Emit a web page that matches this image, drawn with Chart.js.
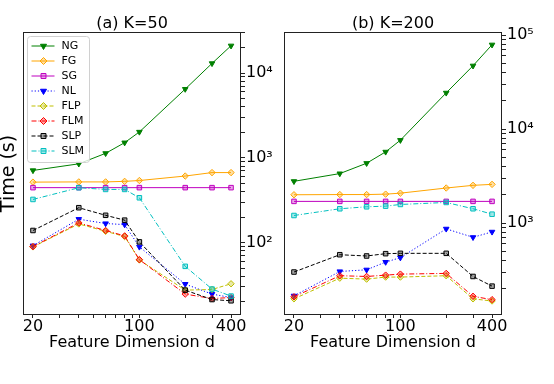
<!DOCTYPE html>
<html>
<head>
<meta charset="utf-8">
<script src="https://cdn.jsdelivr.net/npm/chart.js"></script>
<style>
  html, body { margin: 0; padding: 0; background: #fff; }
  #wrap { position: relative; width: 554px; height: 384px; }
  canvas { position: absolute; top: 0; }
  #left { left: 0; }
  #right { left: 277px; }
</style>
</head>
<body>
<div id="wrap">
  <canvas id="left" width="277" height="384"></canvas>
  <canvas id="right" width="277" height="384"></canvas>
</div>
<script>
// feature dimension d (x values)
const dims = [20, 40, 60, 80, 100, 200, 300, 400];
const seriesNames = ['NG', 'FG', 'SG', 'NL', 'FLP', 'FLM', 'SLP', 'SLM'];

// (a) K=50, time in seconds
const ngK50  = [710, 850, 1130, 1510, 2020, 6470, 13000, 21000];
const fgK50  = [517, 520, 520, 528, 540, 610, 670, 670];
const sgK50  = [445, 445, 445, 445, 445, 445, 445, 445];
const nlK50  = [92, 189, 168, 163, 89, 32.4, 24.7, 22.5];
const flpK50 = [89, 166, 136, 118, 62.4, 27.5, 28, 32.7];
const flmK50 = [89.7, 171, 139, 120, 63, 24.7, 21.9, 22.5];
const slpK50 = [139, 258, 210, 184, 102, 27.5, 21.3, 20.6];
const slmK50 = [323, 444, 424, 424, 338, 52.5, 28.3, 23.4];

// (b) K=200
const ngK200  = [2780, 3360, 4330, 5720, 7620, 24300, 47200, 79000];
const fgK200  = [2000, 2010, 2010, 2030, 2080, 2360, 2520, 2580];
const sgK200  = [1700, 1700, 1700, 1700, 1700, 1700, 1700, 1700];
const nlK200  = [168, 305, 318, 384, 428, 867, 705, 805];
const flpK200 = [156, 259, 253, 266, 266, 275, 156, 148];
const flmK200 = [164, 275, 270, 279, 286, 291, 166, 153];
const slpK200 = [301, 460, 446, 472, 476, 476, 270, 213];
const slmK200 = [1203, 1419, 1489, 1513, 1577, 1656, 1419, 1242];

// tick labels
const xTickLabels = [20, 100, 400];
const yTickLabels = { 100: '10²', 1000: '10³', 10000: '10⁴', 100000: '10⁵' };

const FONT = "'DejaVu Sans', sans-serif";

const STYLE = {
  NG:  { color: '#008000', dash: [],           point: 'triangle', rot: 180, solid: true },
  FG:  { color: '#ffa500', dash: [],           point: 'rectRot' },
  SG:  { color: '#bf00bf', dash: [],           point: 'rect' },
  NL:  { color: '#0000ff', dash: [1.2, 2],     point: 'triangle', rot: 180, solid: true },
  FLP: { color: '#bfbf00', dash: [4, 2],       point: 'rectRot' },
  FLM: { color: '#ff0000', dash: [5, 2, 1, 2], point: 'rectRot' },
  SLP: { color: '#000000', dash: [4, 2],       point: 'rect' },
  SLM: { color: '#00bfbf', dash: [5, 2, 1, 2], point: 'rect' }
};

function fade(hex, a) {
  const n = parseInt(hex.slice(1), 16);
  return 'rgba(' + (n >> 16) + ',' + ((n >> 8) & 255) + ',' + (n & 255) + ',' + a + ')';
}

// minor + major ticks for a log axis between lo and hi
function logTicks(lo, hi) {
  const out = [];
  for (let e = 0; e <= 6; e++) {
    for (let m = 1; m <= 9; m++) {
      const v = m * Math.pow(10, e);
      if (v >= lo && v <= hi) out.push(v);
    }
  }
  return out;
}

const panelTitle = {
  id: 'panelTitle',
  afterDraw(chart, args, opts) {
    const { ctx, chartArea } = chart;
    ctx.save();
    ctx.font = '16px ' + FONT;
    ctx.fillStyle = '#000';
    ctx.textAlign = 'center';
    ctx.textBaseline = 'middle';
    ctx.fillText(opts.text, (chartArea.left + chartArea.right) / 2, chartArea.top - 8);
    ctx.restore();
  }
};

const frame = {
  id: 'frame',
  afterDraw(chart) {
    const { ctx, chartArea: a } = chart;
    ctx.save();
    ctx.strokeStyle = '#222';
    ctx.lineWidth = 1;
    ctx.strokeRect(Math.round(a.left) + 0.5, Math.round(a.top) + 0.5,
      Math.round(a.right - a.left) - 1, Math.round(a.bottom - a.top) - 1);
    ctx.restore();
  }
};

const legendBox = {
  id: 'legendBox',
  afterDraw(chart, args, opts) {
    if (!opts.show) return;
    const { ctx, chartArea: a } = chart;
    const x0 = a.left + 4.5, y0 = a.top + 4.5, w = 62, h = 126, r = 3;
    ctx.save();
    ctx.beginPath();
    ctx.moveTo(x0 + r, y0);
    ctx.arcTo(x0 + w, y0, x0 + w, y0 + h, r);
    ctx.arcTo(x0 + w, y0 + h, x0, y0 + h, r);
    ctx.arcTo(x0, y0 + h, x0, y0, r);
    ctx.arcTo(x0, y0, x0 + w, y0, r);
    ctx.closePath();
    ctx.fillStyle = 'rgba(255,255,255,0.8)';
    ctx.fill();
    ctx.strokeStyle = '#d0d0d0';
    ctx.lineWidth = 1;
    ctx.stroke();
    // datasets are stored reversed (NG on top), legend lists NG first
    const items = chart.data.datasets.slice().reverse();
    items.forEach((ds, i) => {
      const y = y0 + 9.5 + i * 15;
      ctx.strokeStyle = ds.borderColor;
      ctx.lineWidth = 1;
      ctx.setLineDash(ds.borderDash);
      ctx.beginPath();
      ctx.moveTo(x0 + 4, y);
      ctx.lineTo(x0 + 27, y);
      ctx.stroke();
      ctx.setLineDash([]);
      ctx.fillStyle = ds.pointBackgroundColor;
      Chart.helpers.drawPoint(ctx, {
        pointStyle: ds.pointStyle, rotation: ds.pointRotation,
        radius: 3.5, borderWidth: 1
      }, x0 + 16, y);
      ctx.fillStyle = '#000';
      ctx.font = '11px ' + FONT;
      ctx.textAlign = 'left';
      ctx.textBaseline = 'middle';
      ctx.fillText(ds.label, x0 + 34, y);
    });
    ctx.restore();
  }
};

function makeChart(id, title, values, yMin, yMax, yWidth, padLeft, withLegend, withYTitle) {
  const datasets = seriesNames.map((name, i) => {
    const s = STYLE[name];
    return {
      label: name,
      data: values[i].map((v, j) => ({ x: dims[j], y: v })),
      borderColor: s.color,
      borderWidth: 1,
      borderDash: s.dash,
      pointStyle: s.point,
      pointRotation: s.rot || 0,
      pointRadius: 3.2,
      pointBorderWidth: 1,
      pointBorderColor: s.color,
      pointBackgroundColor: s.solid ? s.color : fade(s.color, 0.35),
      fill: false,
      tension: 0,
      yAxisID: 'y'
    };
  }).reverse();

  const tickFont = { size: 16, family: FONT };
  const scales = {
    x: {
      type: 'logarithmic',
      min: 17.2,
      max: 465,
      bounds: 'data',
      afterBuildTicks: (s) => { s.ticks = logTicks(20, 400).map(v => ({ value: v })); },
      afterFit: (s) => { s.height = 69; },
      grid: { drawOnChartArea: false, drawTicks: true, tickLength: 3, tickColor: '#222' },
      border: { display: false },
      ticks: {
        autoSkip: false, maxRotation: 0, padding: -1, color: '#000', font: tickFont,
        callback: (v) => xTickLabels.includes(v) ? String(v) : ''
      },
      title: {
        display: true, text: 'Feature Dimension d', color: '#000',
        font: { size: 16, family: FONT }, padding: { top: 0, bottom: 32 }
      }
    },
    y: {
      type: 'logarithmic',
      position: 'right',
      min: yMin,
      max: yMax,
      bounds: 'data',
      afterBuildTicks: (s) => { s.ticks = logTicks(yMin, yMax).map(v => ({ value: v })); },
      afterFit: (s) => { s.width = yWidth; },
      grid: { drawOnChartArea: false, drawTicks: true, tickLength: 4, tickColor: '#222' },
      border: { display: false },
      ticks: {
        autoSkip: false, padding: 1, color: '#000', font: tickFont,
        callback: (v) => yTickLabels[v] || ''
      }
    }
  };
  if (withYTitle) {
    scales.yL = {
      type: 'linear',
      position: 'left',
      afterFit: (s) => { s.width = 23; },
      grid: { display: false },
      border: { display: false },
      ticks: { display: false },
      title: {
        display: true, text: 'Time (s)', color: '#000',
        font: { size: 19, family: FONT, lineHeight: 1 }, padding: 0
      }
    };
  }

  return new Chart(document.getElementById(id), {
    type: 'line',
    data: { datasets: datasets },
    options: {
      responsive: false,
      animation: false,
      layout: { padding: { top: 32, left: padLeft, right: 0, bottom: 0 } },
      scales: scales,
      plugins: {
        legend: { display: false },
        tooltip: { enabled: false },
        panelTitle: { text: title },
        legendBox: { show: withLegend }
      }
    },
    plugins: [panelTitle, frame, legendBox]
  });
}

// NG..SLM per panel
const k50 = [ngK50, fgK50, sgK50, nlK50, flpK50, flmK50, slpK50, slmK50];
const k200 = [ngK200, fgK200, sgK200, nlK200, flpK200, flmK200, slpK200, slmK200];

const leftChart = makeChart('left', '(a) K=50', k50, 14, 30500, 36, 0, true, true);
const rightChart = makeChart('right', '(b) K=200', k200, 105, 108000, 52, 7, false, false);
</script>
</body>
</html>
